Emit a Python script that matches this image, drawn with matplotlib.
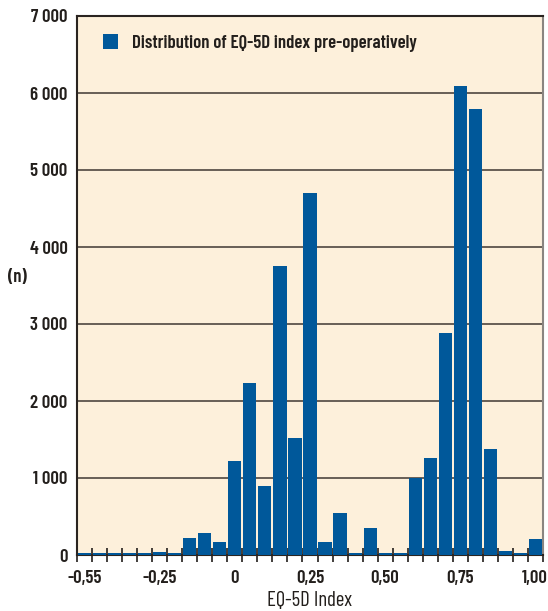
import matplotlib.pyplot as plt
from matplotlib.ticker import FuncFormatter

# EQ-5D index bins (31 bins, labelled every fifth bin)
counts = [20, 20, 20, 20, 20, 45, 20, 215, 280, 175,
          1215, 2235, 890, 3755, 1515, 4700, 175, 540, 20, 345,
          25, 20, 1000, 1265, 2885, 6095, 5795, 1375, 55, 20, 210]
tick_pos = [0, 5, 10, 15, 20, 25, 30]
tick_labels = ['-0,55', '-0,25', '0', '0,25', '0,50', '0,75', '1,00']
legend_label = 'Distribution of EQ-5D index pre-operatively'

plt.rcParams['font.family'] = ['Barlow Condensed', 'DejaVu Sans']
plt.rcParams['font.stretch'] = 'condensed'
plt.rcParams['font.weight'] = 600

bar_color = '#00589a'
bg_color = '#fdf0db'
grid_color = '#4e463f'
text_color = '#231f1c'

fig = plt.figure(figsize=(5.48, 6.11), dpi=100)
ax = fig.add_axes([77.3 / 548, 1 - 555 / 611, 465.4 / 548, 539 / 611])
ax.set_facecolor(bg_color)

x = list(range(len(counts)))
ax.bar(x, counts, width=0.87, color=bar_color, label=legend_label, zorder=3)

ax.set_xlim(-0.5, len(counts) - 0.5)
ax.set_ylim(0, 7000)
ax.set_yticks(range(0, 7001, 1000))
ax.yaxis.set_major_formatter(FuncFormatter(lambda v, p: f'{int(v):,}'.replace(',', ' ')))
ax.grid(axis='y', color=grid_color, linewidth=1.2, zorder=1)
ax.tick_params(axis='y', length=0, pad=7, labelsize=13.5, labelcolor=text_color)

ax.set_xticks(tick_pos)
ax.set_xticklabels(tick_labels)
ax.set_xticks([i - 0.5 for i in range(len(counts) + 1)], minor=True)
ax.tick_params(axis='x', which='major', length=0, pad=11, labelsize=13.5, labelcolor=text_color)
ax.tick_params(axis='x', which='minor', direction='inout', length=10, width=1.2, color=text_color)

for side in ['left', 'top', 'bottom']:
    ax.spines[side].set_color('#2a2420')
    ax.spines[side].set_linewidth(1.5)
ax.spines['right'].set_color('#8a8580')
ax.spines['right'].set_linewidth(1.5)

ax.set_xlabel('EQ-5D Index', fontsize=15, color=text_color, labelpad=3)
fig.text(8 / 548, 1 - 277 / 611, '(n)', fontsize=13.5, color=text_color, ha='left', va='center')

ax.legend(loc='upper left', frameon=False, fontsize=13.5, handlelength=0.8, handleheight=0.85,
          handletextpad=0.75, bbox_to_anchor=(0.018, 0.997), labelcolor=text_color)

fig.savefig('out.png', dpi=100, facecolor='white')
